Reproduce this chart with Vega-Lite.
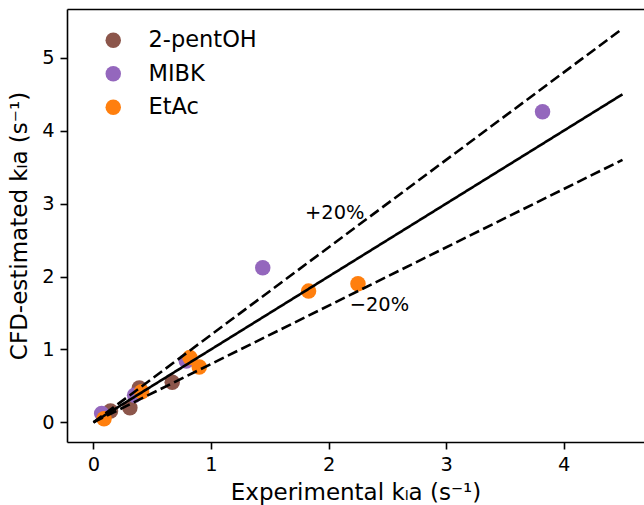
{
  "$schema": "https://vega.github.io/schema/vega-lite/v6.json",
  "autosize": {"type": "none"},
  "width": 577,
  "height": 433,
  "padding": {"left": 67, "top": 9, "right": 0, "bottom": 63},
  "background": "white",
  "config": {
    "view": {"stroke": null},
    "font": "DejaVu Sans",
    "axis": {"grid": false, "domainColor": "black", "domainWidth": 1.6, "tickColor": "black", "tickWidth": 1.6, "tickSize": 7, "labelFont": "DejaVu Sans", "labelFontSize": 19.4, "labelColor": "black", "titleFont": "DejaVu Sans", "titleFontSize": 23, "titleFontWeight": "normal", "titleColor": "black", "labelPadding": 6},
    "legend": {"orient": "none", "legendX": 35, "legendY": 20, "padding": 0, "labelFont": "DejaVu Sans", "labelFontSize": 22.5, "labelColor": "black", "symbolSize": 240, "symbolOpacity": 1, "symbolType": "circle", "symbolStrokeWidth": 0, "rowPadding": 10.5, "labelOffset": 24, "title": null}
  },
  "datasets": {
    "points": [
      {"x": 0.145, "y": 0.155, "solvent": "2-pentOH"},
      {"x": 0.31, "y": 0.20, "solvent": "2-pentOH"},
      {"x": 0.39, "y": 0.47, "solvent": "2-pentOH"},
      {"x": 0.67, "y": 0.55, "solvent": "2-pentOH"},
      {"x": 0.07, "y": 0.12, "solvent": "MIBK"},
      {"x": 0.35, "y": 0.37, "solvent": "MIBK"},
      {"x": 0.79, "y": 0.84, "solvent": "MIBK"},
      {"x": 1.44, "y": 2.12, "solvent": "MIBK"},
      {"x": 3.82, "y": 4.26, "solvent": "MIBK"},
      {"x": 0.09, "y": 0.05, "solvent": "EtAc"},
      {"x": 0.41, "y": 0.42, "solvent": "EtAc"},
      {"x": 0.82, "y": 0.89, "solvent": "EtAc"},
      {"x": 0.90, "y": 0.76, "solvent": "EtAc"},
      {"x": 1.83, "y": 1.80, "solvent": "EtAc"},
      {"x": 2.25, "y": 1.90, "solvent": "EtAc"}
    ],
    "lines": [
      {"x": 0, "y": 0, "line": "parity", "style": "solid"},
      {"x": 4.5, "y": 4.5, "line": "parity", "style": "solid"},
      {"x": 0, "y": 0, "line": "plus20", "style": "dashed"},
      {"x": 4.5, "y": 5.4, "line": "plus20", "style": "dashed"},
      {"x": 0, "y": 0, "line": "minus20", "style": "dashed"},
      {"x": 4.5, "y": 3.6, "line": "minus20", "style": "dashed"}
    ],
    "labels": [
      {"x": 1.8, "y": 2.79, "text": "+20%"},
      {"x": 2.18, "y": 1.53, "text": "\u221220%"}
    ]
  },
  "resolve": {"axis": {"x": "independent"}},
  "layer": [
    {
      "data": {"name": "points"},
      "mark": {"type": "point", "filled": true, "opacity": 1, "size": 240, "shape": "circle"},
      "encoding": {
        "x": {"field": "x", "type": "quantitative", "scale": {"domain": [-0.225, 4.683], "nice": false, "zero": false}, "axis": {"values": [0, 1, 2, 3, 4], "format": "d", "title": "Experimental k\u2097a (s\u207b\u00b9)", "titlePadding": 8}},
        "y": {"field": "y", "type": "quantitative", "scale": {"domain": [-0.27, 5.67], "nice": false, "zero": false}, "axis": {"values": [0, 1, 2, 3, 4, 5], "format": "d", "title": "CFD-estimated k\u2097a (s\u207b\u00b9)", "titlePadding": 10}},
        "color": {"field": "solvent", "type": "nominal", "scale": {"domain": ["2-pentOH", "MIBK", "EtAc"], "range": ["#8c564b", "#9467bd", "#ff7f0e"]}, "sort": null}
      }
    },
    {
      "data": {"name": "lines"},
      "mark": {"type": "line", "color": "black", "strokeWidth": 2.6},
      "encoding": {
        "x": {"field": "x", "type": "quantitative", "axis": {"orient": "top", "labels": false, "ticks": false, "title": null, "domain": true}},
        "y": {"field": "y", "type": "quantitative"},
        "detail": {"field": "line"},
        "strokeDash": {"field": "style", "type": "nominal", "scale": {"domain": ["solid", "dashed"], "range": [[1, 0], [10.5, 4.5]]}, "legend": null}
      }
    },
    {
      "data": {"name": "labels"},
      "mark": {"type": "text", "align": "left", "baseline": "alphabetic", "fontSize": 19.4, "color": "black", "font": "DejaVu Sans"},
      "encoding": {
        "x": {"field": "x", "type": "quantitative", "axis": null},
        "y": {"field": "y", "type": "quantitative"},
        "text": {"field": "text"}
      }
    }
  ]
}
